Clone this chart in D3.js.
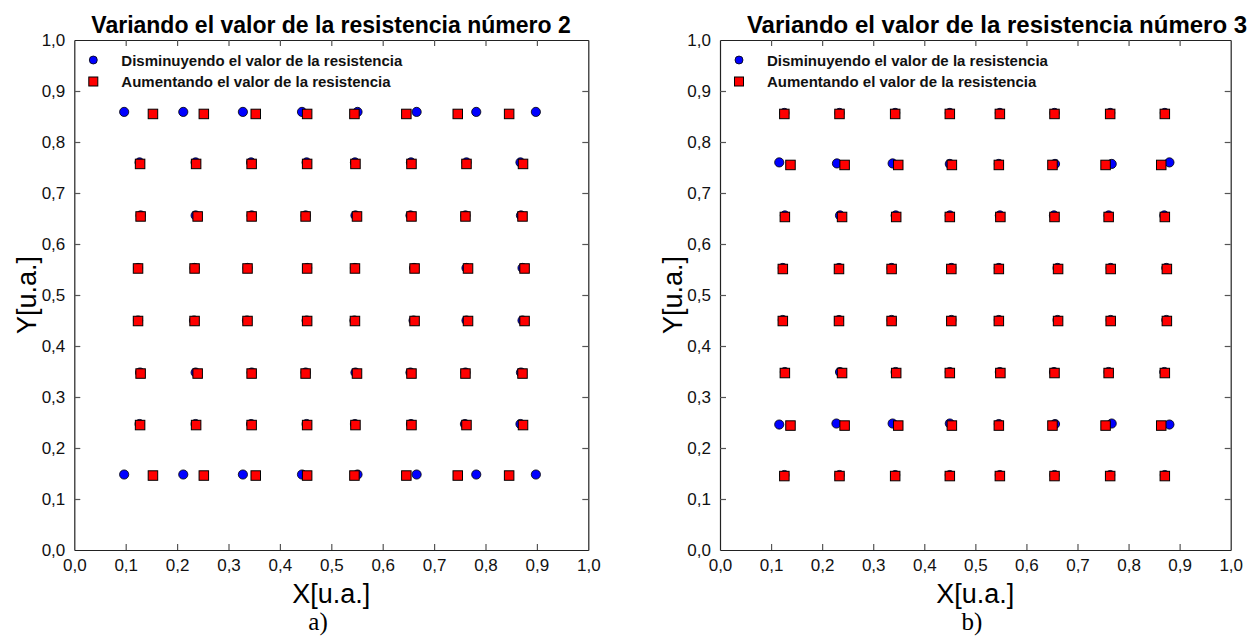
<!DOCTYPE html>
<html>
<head>
<meta charset="utf-8">
<script src="https://cdn.jsdelivr.net/npm/d3@7"></script>
<style>
  html, body { margin: 0; padding: 0; background: #fff; }
  svg { display: block; }
</style>
</head>
<body>
<svg id="fig" width="1254" height="637"></svg>
<script>
// Tick values and their labels (decimal comma)
const tickValues = [0, 0.1, 0.2, 0.3, 0.4, 0.5, 0.6, 0.7, 0.8, 0.9, 1.0];
const tickLabels = ["0,0", "0,1", "0,2", "0,3", "0,4", "0,5", "0,6", "0,7", "0,8", "0,9", "1,0"];

const legendLabels = ["Disminuyendo el valor de la resistencia", "Aumentando el valor de la resistencia"];
const panelTitles = ["Variando el valor de la resistencia número 2", "Variando el valor de la resistencia número 3"];
const panelTags = ["a)", "b)"];

// Panel a) — resistencia 2, disminuyendo (circles)
const aDecX = [
  [0.097, 0.212, 0.328, 0.443, 0.551, 0.666, 0.782, 0.898],
  [0.127, 0.236, 0.344, 0.452, 0.546, 0.655, 0.763, 0.868],
  [0.129, 0.236, 0.345, 0.450, 0.547, 0.654, 0.761, 0.869],
  [0.124, 0.234, 0.337, 0.453, 0.546, 0.661, 0.763, 0.872],
  [0.124, 0.233, 0.336, 0.452, 0.545, 0.660, 0.763, 0.872],
  [0.128, 0.236, 0.345, 0.450, 0.547, 0.654, 0.761, 0.869],
  [0.127, 0.236, 0.344, 0.452, 0.546, 0.655, 0.760, 0.868],
  [0.097, 0.212, 0.328, 0.443, 0.551, 0.666, 0.782, 0.898]
];
const aDecY = [0.859, 0.760, 0.656, 0.553, 0.450, 0.348, 0.247, 0.148];

// Panel a) — resistencia 2, aumentando (squares)
const aIncX = [
  [0.153, 0.252, 0.353, 0.453, 0.545, 0.646, 0.746, 0.846],
  [0.128, 0.237, 0.345, 0.453, 0.547, 0.656, 0.763, 0.873],
  [0.129, 0.240, 0.345, 0.450, 0.550, 0.656, 0.761, 0.872],
  [0.124, 0.234, 0.337, 0.453, 0.546, 0.662, 0.766, 0.876],
  [0.124, 0.234, 0.337, 0.453, 0.546, 0.662, 0.766, 0.876],
  [0.129, 0.240, 0.345, 0.450, 0.550, 0.656, 0.761, 0.872],
  [0.128, 0.237, 0.345, 0.453, 0.547, 0.656, 0.763, 0.873],
  [0.153, 0.252, 0.353, 0.453, 0.545, 0.646, 0.746, 0.846]
];
const aIncY = [0.855, 0.757, 0.654, 0.552, 0.449, 0.346, 0.245, 0.146];

// Panel b) — resistencia 3, disminuyendo (circles)
const bDecX = [
  [0.126, 0.234, 0.343, 0.450, 0.548, 0.655, 0.764, 0.871],
  [0.116, 0.229, 0.338, 0.450, 0.546, 0.656, 0.767, 0.880],
  [0.127, 0.235, 0.344, 0.450, 0.548, 0.654, 0.761, 0.870],
  [0.123, 0.233, 0.336, 0.453, 0.546, 0.661, 0.765, 0.874],
  [0.123, 0.233, 0.336, 0.453, 0.546, 0.661, 0.765, 0.874],
  [0.127, 0.235, 0.344, 0.450, 0.548, 0.654, 0.761, 0.870],
  [0.116, 0.228, 0.338, 0.450, 0.546, 0.656, 0.767, 0.880],
  [0.126, 0.234, 0.343, 0.450, 0.548, 0.655, 0.764, 0.871]
];
const bDecY = [
  [0.857, 0.857, 0.857, 0.857, 0.857, 0.857, 0.857, 0.857],
  [0.760, 0.758, 0.758, 0.757, 0.757, 0.757, 0.757, 0.760],
  [0.656, 0.656, 0.656, 0.656, 0.656, 0.656, 0.656, 0.656],
  [0.553, 0.553, 0.553, 0.553, 0.553, 0.553, 0.553, 0.553],
  [0.451, 0.451, 0.451, 0.451, 0.451, 0.451, 0.451, 0.451],
  [0.349, 0.349, 0.349, 0.349, 0.349, 0.349, 0.349, 0.349],
  [0.246, 0.248, 0.248, 0.248, 0.247, 0.247, 0.248, 0.246],
  [0.147, 0.147, 0.147, 0.147, 0.147, 0.147, 0.147, 0.147]
];

// Panel b) — resistencia 3, aumentando (squares)
const bIncX = [
  [0.126, 0.234, 0.343, 0.450, 0.548, 0.655, 0.764, 0.871],
  [0.138, 0.244, 0.349, 0.454, 0.546, 0.651, 0.755, 0.864],
  [0.127, 0.239, 0.345, 0.450, 0.549, 0.655, 0.761, 0.871],
  [0.123, 0.233, 0.336, 0.453, 0.546, 0.662, 0.765, 0.875],
  [0.123, 0.233, 0.336, 0.453, 0.546, 0.662, 0.765, 0.875],
  [0.127, 0.239, 0.345, 0.450, 0.549, 0.655, 0.761, 0.871],
  [0.138, 0.244, 0.349, 0.454, 0.546, 0.651, 0.755, 0.864],
  [0.126, 0.234, 0.343, 0.450, 0.548, 0.655, 0.764, 0.871]
];
const bIncY = [0.855, 0.755, 0.653, 0.551, 0.449, 0.347, 0.244, 0.145];

// Flatten row-wise readings into point lists
function points(xRows, yRows) {
  const pts = [];
  xRows.forEach((row, i) => {
    row.forEach((x, j) => {
      const y = Array.isArray(yRows[i]) ? yRows[i][j] : yRows[i];
      pts.push({ x, y });
    });
  });
  return pts;
}

const panels = [
  { left: 74.3, right: 588.3, title: panelTitles[0], titleSize: 23, titleX: 331, tag: panelTags[0], tagX: 318,
    dec: points(aDecX, aDecY), inc: points(aIncX, aIncY), yLabelX: 36 },
  { left: 720, right: 1230.7, title: panelTitles[1], titleSize: 24, titleX: 997, tag: panelTags[1], tagX: 972,
    dec: points(bDecX, bDecY), inc: points(bIncX, bIncY), yLabelX: 682 }
];

const plotTop = 40, plotBottom = 550;
const svg = d3.select("#fig");
const FONT = "'Liberation Sans', Arial, Helvetica, sans-serif";
const labelOf = v => tickLabels[tickValues.indexOf(v)];
const inner = tickValues.slice(1, -1);

panels.forEach(p => {
  const x = d3.scaleLinear().domain([0, 1]).range([p.left, p.right]);
  const y = d3.scaleLinear().domain([0, 1]).range([plotBottom, plotTop]);
  const g = svg.append("g");

  // inward ticks on all four sides
  const bottomAxis = g.append("g").attr("transform", `translate(0,${plotBottom})`)
    .call(d3.axisBottom(x).tickValues(tickValues).tickFormat(labelOf).tickSizeInner(-6).tickSizeOuter(0).tickPadding(9));
  const leftAxis = g.append("g").attr("transform", `translate(${p.left},0)`)
    .call(d3.axisLeft(y).tickValues(tickValues).tickFormat(labelOf).tickSizeInner(-6).tickSizeOuter(0).tickPadding(9));
  const topAxis = g.append("g").attr("transform", `translate(0,${plotTop})`)
    .call(d3.axisTop(x).tickValues(inner).tickFormat("").tickSizeInner(-6).tickSizeOuter(0));
  const rightAxis = g.append("g").attr("transform", `translate(${p.right},0)`)
    .call(d3.axisRight(y).tickValues(inner).tickFormat("").tickSizeInner(-6).tickSizeOuter(0));

  [bottomAxis, leftAxis, topAxis, rightAxis].forEach(a => {
    a.select(".domain").attr("stroke", "#222").attr("stroke-width", 1.2);
    a.selectAll(".tick line").attr("stroke", "#555").attr("stroke-width", 1.2);
    a.selectAll(".tick text").attr("fill", "#111").style("font-family", FONT).style("font-size", "17px");
  });
  // end ticks at 0 and 1 sit on the frame; hide them
  bottomAxis.selectAll(".tick line").filter(d => d === 0 || d === 1).remove();
  leftAxis.selectAll(".tick line").filter(d => d === 0 || d === 1).remove();

  // circles: disminuyendo
  g.append("g").selectAll("circle").data(p.dec).join("circle")
    .attr("cx", d => x(d.x)).attr("cy", d => y(d.y)).attr("r", 4.6)
    .attr("fill", "#0000ff").attr("stroke", "#000").attr("stroke-width", 0.8);

  // squares: aumentando
  const s = 9.5;
  g.append("g").selectAll("rect").data(p.inc).join("rect")
    .attr("x", d => x(d.x) - s / 2).attr("y", d => y(d.y) - s / 2)
    .attr("width", s).attr("height", s)
    .attr("fill", "#ff0000").attr("stroke", "#000").attr("stroke-width", 1);

  // legend
  const lg = g.append("g");
  const lx = p.left + 19;
  lg.append("circle").attr("cx", lx).attr("cy", 60).attr("r", 4)
    .attr("fill", "#0000ff").attr("stroke", "#000").attr("stroke-width", 0.8);
  lg.append("rect").attr("x", lx - 4.5).attr("y", 77).attr("width", 9).attr("height", 9)
    .attr("fill", "#ff0000").attr("stroke", "#000").attr("stroke-width", 1);
  legendLabels.forEach((t, i) => {
    lg.append("text").attr("x", p.left + 47).attr("y", 65.5 + i * 21.5)
      .style("font-family", FONT).style("font-size", "15px").style("font-weight", "bold")
      .attr("fill", "#111").text(t);
  });

  // title
  g.append("text").attr("x", p.titleX).attr("y", 33).attr("text-anchor", "middle")
    .style("font-family", FONT).style("font-size", p.titleSize + "px").style("font-weight", "bold")
    .attr("fill", "#000").text(p.title);

  // axis titles
  g.append("text").attr("x", (p.left + p.right) / 2).attr("y", 603).attr("text-anchor", "middle")
    .style("font-family", FONT).style("font-size", "27px").attr("fill", "#000").text("X[u.a.]");
  g.append("text").attr("transform", `translate(${p.yLabelX},${(plotTop + plotBottom) / 2}) rotate(-90)`)
    .attr("text-anchor", "middle")
    .style("font-family", FONT).style("font-size", "27px").attr("fill", "#000").text("Y[u.a.]");

  // panel tag
  g.append("text").attr("x", p.tagX).attr("y", 630).attr("text-anchor", "middle")
    .style("font-family", "'Liberation Serif', 'Times New Roman', serif").style("font-size", "25px")
    .attr("fill", "#000").text(p.tag);
});
</script>
</body>
</html>
